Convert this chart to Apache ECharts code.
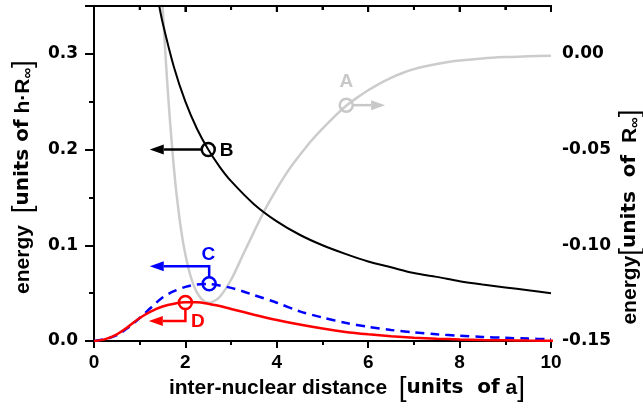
<!DOCTYPE html>
<html><head><meta charset="utf-8">
<script src="https://cdn.jsdelivr.net/npm/echarts@6/dist/echarts.min.js"></script>
<style>html,body{margin:0;padding:0;background:#fff}#c{width:643px;height:408px}</style>
</head><body><div id="c"></div>
<script>
// ---- data ----
const rRed = [0,0.25,0.5,0.75,1,1.25,1.5,1.75,2,2.25,2.5,2.75,3,3.5,4,4.5,5,5.5,6,6.5,7,7.5,8,8.5,9,9.5,10,10.45];
const valD = [0,0.002,0.007,0.015,0.024,0.031,0.036,0.039,0.0405,0.0405,0.039,0.0365,0.0335,0.0275,0.022,0.0172,0.013,0.0095,0.007,0.005,0.0035,0.0024,0.0016,0.001,0.0007,0.0004,0.0003,0.0002];
const rBlue = [0,0.25,0.5,0.75,1,1.25,1.5,1.75,2,2.25,2.5,2.75,3,3.25,3.5,4,4.5,5,5.5,6,6.5,7,7.5,8,8.5,9,9.5,10];
const valC = [0,0.002,0.006,0.014,0.024,0.035,0.0455,0.052,0.0565,0.059,0.0595,0.058,0.0555,0.052,0.048,0.040,0.031,0.0245,0.019,0.0148,0.0115,0.009,0.007,0.0055,0.0043,0.0033,0.0025,0.0018];
const rBlack = [1.35,1.4,1.5,1.75,2,2.25,2.5,2.75,3,3.5,4,4.5,5,5.5,6,6.5,7,7.5,8,8.5,9,9.5,10];
const valB = [0.37,0.357,0.333,0.286,0.25,0.222,0.2,0.182,0.167,0.143,0.125,0.111,0.1,0.091,0.083,0.077,0.071,0.067,0.0625,0.059,0.056,0.053,0.05];
const rGrey = [1.45,1.5,1.55,1.6,1.65,1.7,1.75,1.8,1.9,2.0,2.1,2.2,2.3,2.4,2.5,2.6,2.75,3.0,3.25,3.5,3.75,4.0,4.25,4.5,4.75,5.0,5.25,5.5,5.75,6.0,6.25,6.5,6.75,7.0,7.25,7.5,7.75,8.0,8.5,9.0,9.5,10];
const valA = [0.045,0.025,0.005,-0.014,-0.031,-0.046,-0.060,-0.072,-0.091,-0.105,-0.115,-0.122,-0.1265,-0.129,-0.130,-0.1295,-0.127,-0.118,-0.1055,-0.093,-0.081,-0.0705,-0.061,-0.053,-0.0455,-0.039,-0.033,-0.0275,-0.023,-0.019,-0.0155,-0.0125,-0.010,-0.008,-0.0065,-0.0053,-0.0043,-0.0035,-0.0024,-0.0017,-0.0012,-0.001];
const xTicks = [0,2,4,6,8,10];
const topTicks = [0,1,2,3,4,5,6,7,8,9,10];
const leftTicks = [0.0,0.1,0.2,0.3];
const rightTicks = [-0.15,-0.10,-0.05,0.00];
const yTop = 0.35;
// annotation anchors: [circleX, circleY, cornerY, tipX, labelX, labelY]
const annA = [5.52,-0.0268,-0.0268,6.37,5.52,-0.0148];
const annB = [2.5,0.2,0.2,1.22,2.9,0.199];
const annC = [2.52,0.0598,0.078,1.22,2.5,0.0905];
const annD = [2.0,0.0402,0.0208,1.2,2.27,0.0206];
const labels = ['A','B','C','D'];

const zip = (xs, ys) => xs.map((x,i)=>[x, ys[i]]);
const chart = echarts.init(document.getElementById('c'));
const lab = {fontFamily:'DejaVu Sans', fontWeight:'bold', fontSize:17, color:'#000'};
const blk = {color:'#000', width:2};

function annotation(color, kind, text) {
  return function(params, api) {
    const c = api.coord([api.value(0), api.value(1)]);
    const corner = api.coord([api.value(0), api.value(2)]);
    const tip = api.coord([api.value(3), api.value(2)]);
    const lp = api.coord([api.value(4), api.value(5)]);
    const r = 6.5, hl = 14, hw = 5;
    const dir = tip[0] < c[0] ? -1 : 1;
    let pts;
    if (kind === 'h') {
      pts = [[c[0] + dir*r, c[1]], [tip[0] - dir*hl, tip[1]]];
    } else {
      const sy = corner[1] < c[1] ? c[1] - r : c[1] + r;
      pts = [[c[0], sy], [corner[0], corner[1]], [tip[0] - dir*hl, tip[1]]];
    }
    return {type:'group', children:[
      {type:'polyline', shape:{points:pts}, style:{stroke:color, lineWidth:2.5, fill:null}},
      {type:'polygon', shape:{points:[[tip[0], tip[1]], [tip[0]-dir*hl, tip[1]-hw], [tip[0]-dir*hl, tip[1]+hw]]}, style:{fill:color}},
      {type:'circle', shape:{cx:c[0], cy:c[1], r:r}, style:{stroke:color, lineWidth:2.5, fill:null}},
      {type:'text', x:lp[0], y:lp[1], style:{text:text, fill:color, font:'bold 19px "Liberation Sans"', align:'center', verticalAlign:'middle'}}
    ]};
  };
}

// top frame edge with inward ticks, placed through the axes' scales
function topFrame(params, api) {
  const x = api.value(0);
  const p = api.coord([x, yTop]);
  const len = (x % 2 === 0) ? 6 : 4;
  const children = [{type:'line', shape:{x1:p[0], y1:p[1], x2:p[0], y2:p[1] + len}, style:{stroke:'#000', lineWidth:2}}];
  if (params.dataIndex === 0) {
    const a = api.coord([topTicks[0], yTop]);
    const b = api.coord([topTicks[topTicks.length - 1], yTop]);
    children.push({type:'line', shape:{x1:a[0] - 1, y1:a[1], x2:b[0] + 1, y2:b[1]}, style:{stroke:'#000', lineWidth:2}});
  }
  return {type:'group', children:children};
}

const titleRich = {
  t:{fontFamily:'Liberation Sans', fontWeight:'bold', fontSize:21, color:'#000'},
  u:{fontFamily:'DejaVu Sans', fontWeight:'bold', fontSize:20, color:'#000'},
  br:{fontFamily:'Liberation Sans', fontWeight:'normal', fontSize:28, color:'#000'},
  sub:{fontFamily:'Liberation Sans', fontWeight:'bold', fontSize:15, color:'#000', padding:[10,0,0,0]}
};

chart.setOption({
  animation:false,
  grid:{left:94, right:92, top:6, bottom:67},
  xAxis:[{
    type:'value', min:0, max:10, interval:2, position:'bottom',
    axisLine:{onZero:false, lineStyle:blk},
    axisTick:{length:7, lineStyle:blk},
    minorTick:{show:true, splitNumber:2, length:4, lineStyle:blk},
    splitLine:{show:false},
    axisLabel:{margin:12, fontFamily:'Liberation Sans', fontWeight:'bold', fontSize:19, color:'#000',
      formatter: v => xTicks.includes(v) ? String(v) : ''}
  },{
    type:'value', min:0, max:10, interval:2, position:'top',
    axisLine:{onZero:false, lineStyle:blk},
    axisTick:{inside:true, length:6, lineStyle:blk},
    minorTick:{show:true, splitNumber:2, length:4, lineStyle:blk},
    splitLine:{show:false}, axisLabel:{show:false}
  }],
  yAxis:[{
    type:'value', min:0, max:yTop, interval:0.1, position:'left',
    axisLine:{show:true, lineStyle:blk},
    axisTick:{show:true, length:8, lineStyle:blk},
    minorTick:{show:true, splitNumber:2, length:4, lineStyle:blk},
    splitLine:{show:false},
    axisLabel:Object.assign({margin:16, showMaxLabel:false,
      formatter: v => leftTicks.some(t=>Math.abs(t-v)<1e-9) ? v.toFixed(1) : ''}, lab)
  },{
    type:'value', min:-0.15, max:0.025, interval:0.05, position:'right',
    axisLine:{show:true, lineStyle:blk},
    axisTick:{show:true, inside:true, length:9, lineStyle:blk},
    minorTick:{show:true, splitNumber:2, length:5, lineStyle:blk},
    splitLine:{show:false},
    axisLabel:Object.assign({margin:11, showMaxLabel:false,
      formatter: v => rightTicks.some(t=>Math.abs(t-v)<1e-9) ? v.toFixed(2) : ''}, lab)
  }],
  graphic:[
    {type:'text', x:23, y:177, rotation:Math.PI/2, style:{text:'{t|energy  }{br|[}{u|units of}{t| h·R}{sub|∞}{br|]}', rich:titleRich, align:'center', verticalAlign:'middle'}},
    {type:'text', x:630, y:217, rotation:Math.PI/2, style:{text:'{t|energy}{br|[}{u|units  of}{t|  R}{sub|∞}{br|]}', rich:titleRich, align:'center', verticalAlign:'middle'}},
    {type:'text', x:347, y:388, style:{text:'{t|inter-nuclear distance  }{br|[}{u|units  of}{t| a}{br|]}', rich:titleRich, align:'center', verticalAlign:'middle'}}
  ],
  series:[
    {type:'line', yAxisIndex:1, data:zip(rGrey,valA), smooth:0.3, showSymbol:false, lineStyle:{color:'#cccccc', width:2.5}, z:2},
    {type:'line', data:zip(rBlack,valB), smooth:0.3, showSymbol:false, lineStyle:{color:'#000', width:2}, z:3},
    {type:'line', data:zip(rBlue,valC), smooth:0.3, showSymbol:false, lineStyle:{color:'#0000ff', width:2.5, type:[9,6]}, z:4},
    {type:'line', data:zip(rRed,valD), smooth:0.3, showSymbol:false, clip:false, lineStyle:{color:'#ff0000', width:2.5}, z:5},
    {type:'custom', yAxisIndex:1, data:[annA], renderItem:annotation('#c8c8c8','h',labels[0]), z:6, silent:true},
    {type:'custom', data:[annB], renderItem:annotation('#000000','h',labels[1]), z:6, silent:true},
    {type:'custom', data:[annC], renderItem:annotation('#0000ff','v',labels[2]), z:6, silent:true},
    {type:'custom', data:[annD], renderItem:annotation('#ff0000','v',labels[3]), z:6, silent:true},
    {type:'custom', data:topTicks.map(v => [v]), renderItem:topFrame, z:7, silent:true}
  ]
});
</script></body></html>
